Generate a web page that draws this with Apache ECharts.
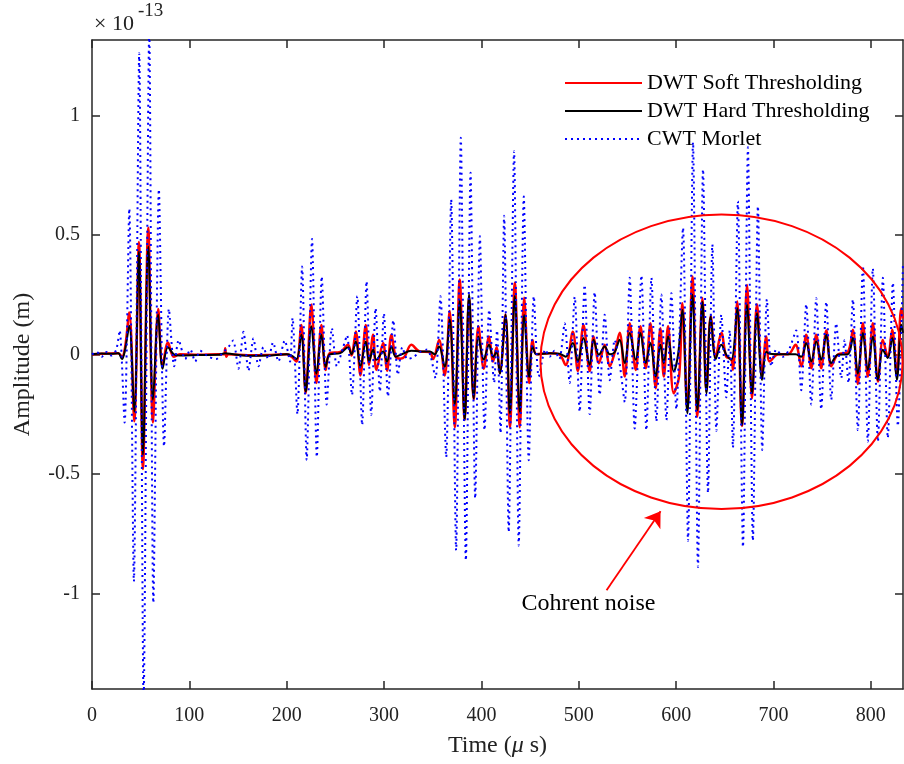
<!DOCTYPE html>
<html>
<head>
<meta charset="utf-8">
<title>Amplitude vs time</title>
<script src="https://cdn.jsdelivr.net/npm/echarts@6/dist/echarts.min.js"></script>
<style>
html, body { margin: 0; padding: 0; background: #fff; }
#main { width: 904px; height: 764px; }
</style>
</head>
<body>
<div id="main"></div>
<script>
// values are in units of 1e-13 m, time in microseconds
const seriesNames = ['DWT Soft Thresholding', 'DWT Hard Thresholding', 'CWT Morlet'];
const xTicks = [0, 100, 200, 300, 400, 500, 600, 700, 800];
const yTicks = [-1, -0.5, 0, 0.5, 1];

const softData = [
    [0, 0], [10, 0.002], [27, 0.005], [30.8, -0.01], [34, 0.03], [38.3, 0.175], [43.4, -0.28], [48.2, 0.47],
    [52.3, -0.48], [57.8, 0.53], [62.6, -0.285], [68, 0.19], [72.5, -0.05], [78, 0.05], [84, -0.01], [90, 0],
    [110, -0.002], [130, 0], [135.5, 0], [136.8, 0.025], [138, -0.01], [140, 0], [160, -0.004], [180, -0.003],
    [200, 0], [205, -0.01], [210, -0.03], [215, 0.123], [219.5, -0.163], [225.3, 0.208], [230.5, -0.12],
    [235.6, 0.123], [240, -0.065], [244.2, 0.005], [255, 0.01], [263, 0.04], [266.5, -0.005], [271, 0.096],
    [275.7, -0.088], [281.2, 0.123], [284.6, -0.044], [288.7, 0.082], [292.1, -0.065], [299, 0.047],
    [303, -0.069], [307.5, 0.082], [312, -0.01], [316.7, -0.018], [321, -0.01], [328, 0.04], [336.6, 0.012],
    [346.9, 0.01], [350.3, -0.02], [356.5, 0.06], [362.3, -0.088], [367.4, 0.181], [372.6, -0.305],
    [377.7, 0.313], [382.8, -0.275], [387.3, 0.24], [392.1, -0.19], [396.9, 0.117], [402.4, -0.06],
    [407.8, 0.075], [412, -0.03], [415.5, 0.03], [418.9, -0.08], [424.7, 0.167], [429.2, -0.305],
    [434.3, 0.3], [439.4, -0.305], [443.9, 0.237], [449, -0.12], [452.5, 0.06], [456.6, 0], [470, 0.005],
    [480, 0], [486.5, -0.045], [493.9, 0.095], [499, -0.07], [504.8, 0.123], [511.2, -0.07], [515.2, 0.075],
    [520.7, -0.037], [526.6, 0.04], [531.8, -0.05], [536.9, 0.008], [542, 0.09], [547.2, -0.093],
    [552.3, 0.13], [558.5, -0.065], [563.3, 0.117], [568.8, -0.058], [573.6, 0.13], [579, -0.142],
    [583.8, 0.109], [587.3, -0.093], [591.7, 0.117], [597.5, -0.163], [603, -0.093], [606.4, 0.214],
    [611.5, -0.233], [616.7, 0.326], [621.8, -0.26], [627, 0.236], [631.1, -0.155], [635.5, 0.16],
    [640.6, -0.01], [646.4, 0.09], [651.5, -0.01], [656.6, -0.02], [658.3, -0.065], [662.8, 0.221],
    [667.6, -0.3], [672.8, 0.29], [677.9, -0.184], [683, 0.21], [688.2, -0.085], [692.6, 0.075],
    [696, -0.03], [705, 0], [715, 0], [722.6, 0.04], [728.5, -0.05], [733.6, 0.082], [738.8, -0.058],
    [743.9, 0.082], [749, -0.058], [754.2, 0.1], [759.3, -0.05], [766.1, 0], [776.4, 0.01], [781.5, 0.103],
    [786.6, -0.124], [791.8, 0.13], [796.9, -0.093], [802, 0.13], [807.2, -0.114], [812.3, 0.06],
    [817.4, -0.01], [821.9, 0.103], [826.7, -0.09], [831.2, 0.193], [833, 0.15]
];

const hardData = [
    [0, 0], [10, 0.003], [20, 0.002], [27, 0.005], [30.8, -0.02], [34, 0.02], [38.3, 0.12], [43.4, -0.24],
    [48.2, 0.43], [52.3, -0.42], [57.8, 0.45], [62.6, -0.19], [68, 0.166], [72.5, -0.06], [78, 0.03], [84, 0],
    [90, -0.005], [110, -0.003], [130, -0.002], [137, 0.005], [145, 0], [160, -0.006], [180, -0.005],
    [200, 0], [205, -0.005], [210, -0.02], [215, 0.082], [219.5, -0.156], [225.3, 0.117], [230.5, -0.08],
    [235.6, 0.082], [240, -0.052], [244.2, 0], [255, 0.005], [263, 0.03], [266.5, 0], [271, 0.054],
    [275.7, -0.052], [281.2, 0.054], [284.6, -0.03], [288.7, 0.019], [292.1, -0.023], [299, 0.012],
    [303, -0.03], [307.5, 0.033], [312, -0.01], [318, 0], [328, 0.015], [337, 0.012], [347, 0.012], [352, 0],
    [356.5, 0.033], [362.3, -0.052], [367.4, 0.146], [372.6, -0.21], [377.7, 0.224], [382.8, -0.275],
    [387.3, 0.251], [392.1, -0.185], [396.9, 0.075], [402.4, -0.022], [407.8, 0.04], [412, -0.01],
    [415.5, 0.01], [418.9, -0.08], [424.7, 0.167], [429.2, -0.247], [434.3, 0.244], [439.4, -0.24],
    [443.9, 0.165], [449, -0.095], [452.5, 0.033], [456.6, 0], [470, 0.005], [480, 0.003], [486.5, -0.01],
    [493.9, 0.047], [499, -0.03], [504.8, 0.068], [511.2, -0.044], [515.2, 0.061], [520.7, -0.002],
    [526.6, 0.033], [531.8, 0], [536.9, 0.01], [542, 0.061], [547.2, -0.037], [552.3, 0.089], [558.5, -0.023],
    [563.3, 0.089], [568.8, -0.037], [573.6, 0.047], [579, -0.093], [583.8, 0.04], [587.3, -0.037],
    [591.7, 0.075], [597.5, -0.072], [602, 0], [606.4, 0.186], [611.5, -0.247], [616.7, 0.249],
    [621.8, -0.233], [627, 0.22], [631.1, -0.163], [635.5, 0.158], [640.6, -0.02], [646.4, 0.04],
    [651.5, -0.002], [656.6, -0.023], [662.8, 0.193], [667.6, -0.296], [672.8, 0.207], [677.9, -0.163],
    [683, 0.172], [688.2, -0.107], [692.6, 0.011], [696, 0.002], [710, 0], [722.6, 0], [728.5, -0.01],
    [733.6, 0.047], [738.8, -0.03], [743.9, 0.054], [749, -0.023], [754.2, 0.082], [759.3, -0.037],
    [766.1, -0.002], [776.4, 0], [781.5, 0.068], [786.6, -0.08], [791.8, 0.089], [796.9, -0.065],
    [802, 0.075], [807.2, -0.107], [812.3, 0.019], [817.4, -0.015], [821.9, 0.068], [826.7, -0.107],
    [831.2, 0.124], [833, 0.09]
];

const cwtData = [
    [0, 0], [5, 0.01], [10, -0.01], [15, 0.01], [20, -0.005], [25, 0.02], [28.4, 0.1], [33.5, -0.285],
    [38.3, 0.61], [43, -0.95], [48.5, 1.26], [53, -1.45], [58.8, 1.35], [63, -1.04], [68.7, 0.69],
    [74, -0.385], [79, 0.19], [84.4, -0.05], [89, 0.06], [95.7, -0.02], [101, 0.02], [106, -0.03],
    [111, 0.015], [120, -0.01], [127.5, -0.02], [135, 0.01], [140, 0.03], [145, 0.058], [150.4, -0.06],
    [155.6, 0.094], [160.7, -0.069], [165.8, 0.067], [171, -0.05], [176, 0.03], [181, -0.02], [186, 0.05],
    [191.5, -0.03], [198, 0.058], [203.4, -0.03], [206, 0.152], [211, -0.25], [215.8, 0.367],
    [220.5, -0.443], [226, 0.483], [230.9, -0.43], [236, 0.326], [241, -0.21], [246.4, 0.11], [251.5, -0.05],
    [258, 0.03], [262, 0.08], [267, -0.17], [272.5, 0.243], [277.5, -0.296], [282, 0.305], [286.8, -0.253],
    [291.3, 0.193], [295.7, -0.156], [299.8, 0.172], [304, -0.177], [309.5, 0.143], [314.2, -0.086],
    [318.7, 0.03], [324, -0.02], [330.6, -0.01], [337, 0.01], [344.3, 0.02], [348, -0.01], [352.8, -0.1],
    [357.9, 0.243], [363.8, -0.43], [368.9, 0.648], [374, -0.82], [378.8, 0.906], [384, -0.862],
    [388.8, 0.76], [393.6, -0.603], [398.4, 0.494], [403.2, -0.317], [408, 0.186], [413, -0.12],
    [416, 0.1], [419.6, -0.33], [423.3, 0.58], [428, -0.744], [433.5, 0.85], [438.3, -0.8], [443.5, 0.66],
    [448.6, -0.443], [453.8, 0.243], [458.9, -0.093], [465.7, 0.02], [470, -0.01], [475, 0.015],
    [480, -0.02], [485.5, 0.13], [490.6, -0.12], [495.8, 0.24], [500.9, -0.24], [506, 0.29], [511.2, -0.25],
    [516.3, 0.26], [521.5, -0.17], [526.6, 0.166], [531.8, -0.108], [536.9, 0.06], [542, -0.04],
    [547.2, -0.2], [552.3, 0.32], [557.4, -0.31], [564.3, 0.33], [569.4, -0.317], [574.6, 0.32],
    [579.7, -0.28], [584.8, 0.25], [590, -0.275], [595.1, 0.256], [600.2, -0.23], [607, 0.53],
    [612.2, -0.78], [617.3, 0.887], [622.4, -0.89], [627.6, 0.774], [632.7, -0.58], [637.2, 0.46],
    [641.3, -0.32], [646.4, 0.166], [651.5, -0.18], [655, 0.1], [658.3, -0.39], [663.4, 0.64],
    [668.6, -0.806], [673.7, 0.866], [678.8, -0.78], [684, 0.62], [688.4, -0.4], [693.2, 0.23],
    [697.7, -0.05], [702.8, 0.02], [710, -0.01], [716, 0.02], [723.3, 0.1], [728.5, -0.15], [733.6, 0.21],
    [738.8, -0.21], [743.9, 0.235], [749, -0.23], [754.2, 0.22], [759.3, -0.19], [764.4, 0.13],
    [769.6, -0.1], [773, 0.06], [777, -0.12], [781.5, 0.23], [786.6, -0.317], [791.8, 0.37],
    [796.9, -0.365], [802, 0.36], [807.2, -0.365], [812.3, 0.32], [817.4, -0.35], [822.6, 0.3],
    [827.7, -0.3], [832.9, 0.37]
];

// annotation (data units)
const noiseEllipse = { cx: 646.6, cy: -0.031, rx: 186, ry: 0.616 };
const arrowFrom = [528.5, -0.987];
const arrowTo = [584, -0.656];
const noteText = 'Cohrent noise';
const notePos = [510, -1.045];

const serif = 'Liberation Serif';
const axisColor = '#262626';

const chart = echarts.init(document.getElementById('main'));

function boxAxis(extra) {
    return Object.assign({
        type: 'value',
        axisLine: { show: true, onZero: false, lineStyle: { color: axisColor, width: 1.5 } },
        splitLine: { show: false },
        axisLabel: { show: false },
        axisTick: { show: true, inside: true, length: 8, lineStyle: { color: axisColor, width: 1.5 } }
    }, extra);
}

function ticks(values) {
    return { show: true, inside: true, length: 8, customValues: values, lineStyle: { color: axisColor, width: 1.5 } };
}

const option = {
    animation: false,
    backgroundColor: '#fff',
    grid: { left: 92, right: 1, top: 40, bottom: 75, outerBoundsMode: 'none' },
    legend: {
        orient: 'vertical',
        left: 559,
        top: 67,
        itemWidth: 77,
        itemHeight: 14,
        itemGap: 6,
        data: seriesNames,
        itemStyle: { opacity: 0, color: 'transparent', borderWidth: 0 },
        textStyle: { fontFamily: serif, fontSize: 22, color: '#000', lineHeight: 22 }
    },
    xAxis: [
        boxAxis({
            min: 0, max: 833, position: 'bottom',
            name: 'Time ({i|\u03bc} s)', nameLocation: 'middle', nameGap: 45,
            nameTextStyle: {
                fontFamily: serif, fontSize: 24, color: '#222',
                rich: { i: { fontFamily: serif, fontSize: 24, fontStyle: 'italic', color: '#222' } }
            },
            axisTick: ticks(xTicks),
            axisLabel: { show: true, customValues: xTicks, margin: 17, fontFamily: serif, fontSize: 20, color: '#222' }
        }),
        boxAxis({ min: 0, max: 833, position: 'top', axisTick: ticks(xTicks) })
    ],
    yAxis: [
        boxAxis({
            min: -1.40, max: 1.315, position: 'left',
            name: 'Amplitude (m)', nameLocation: 'middle', nameGap: 57,
            nameTextStyle: { fontFamily: serif, fontSize: 24, color: '#222' },
            axisTick: ticks(yTicks),
            axisLabel: { show: true, customValues: yTicks, margin: 12, fontFamily: serif, fontSize: 20, color: '#222' }
        }),
        boxAxis({ min: -1.40, max: 1.315, position: 'right', axisTick: ticks(yTicks) })
    ],
    series: [
        {
            name: seriesNames[0],
            type: 'line',
            data: softData,
            symbol: 'none',
            smooth: 0.35,
            lineStyle: { color: '#ff0000', width: 2.5 },
            itemStyle: { color: '#ff0000' },
            markLine: {
                silent: true,
                symbol: ['none', 'arrow'],
                symbolSize: 15,
                label: { show: false },
                lineStyle: { color: '#ff0000', width: 1.8, type: 'solid' },
                data: [[{ coord: arrowFrom }, { coord: arrowTo }]]
            }
        },
        {
            name: seriesNames[1],
            type: 'line',
            data: hardData,
            symbol: 'none',
            smooth: 0.35,
            lineStyle: { color: '#000000', width: 2 },
            itemStyle: { color: '#000000' }
        },
        {
            name: seriesNames[2],
            type: 'line',
            data: cwtData,
            symbol: 'none',
            smooth: 0.25,
            lineStyle: { color: '#0000ff', width: 2, type: [2, 4] },
            itemStyle: { color: '#0000ff' }
        }
    ]
};

chart.setOption(option);

// annotation shapes placed from data coordinates
const c = chart.convertToPixel({ gridIndex: 0 }, [noiseEllipse.cx, noiseEllipse.cy]);
const e = chart.convertToPixel({ gridIndex: 0 }, [noiseEllipse.cx + noiseEllipse.rx, noiseEllipse.cy + noiseEllipse.ry]);
const t = chart.convertToPixel({ gridIndex: 0 }, notePos);

chart.setOption({
    graphic: [
        {
            type: 'ellipse',
            shape: { cx: c[0], cy: c[1], rx: e[0] - c[0], ry: c[1] - e[1] },
            style: { fill: 'none', stroke: '#ff0000', lineWidth: 2 },
            z: 10
        },
        {
            type: 'text',
            x: t[0], y: t[1],
            style: { text: noteText, font: '24px "Liberation Serif"', fill: '#000', align: 'center', verticalAlign: 'middle' },
            z: 10
        },
        {
            type: 'text',
            left: 94, top: 13,
            style: { text: '\u00d7 10', font: '22px "Liberation Serif"', fill: '#222' }
        },
        {
            type: 'text',
            left: 138, top: 2,
            style: { text: '-13', font: '19px "Liberation Serif"', fill: '#222' }
        }
    ]
});
</script>
</body>
</html>
